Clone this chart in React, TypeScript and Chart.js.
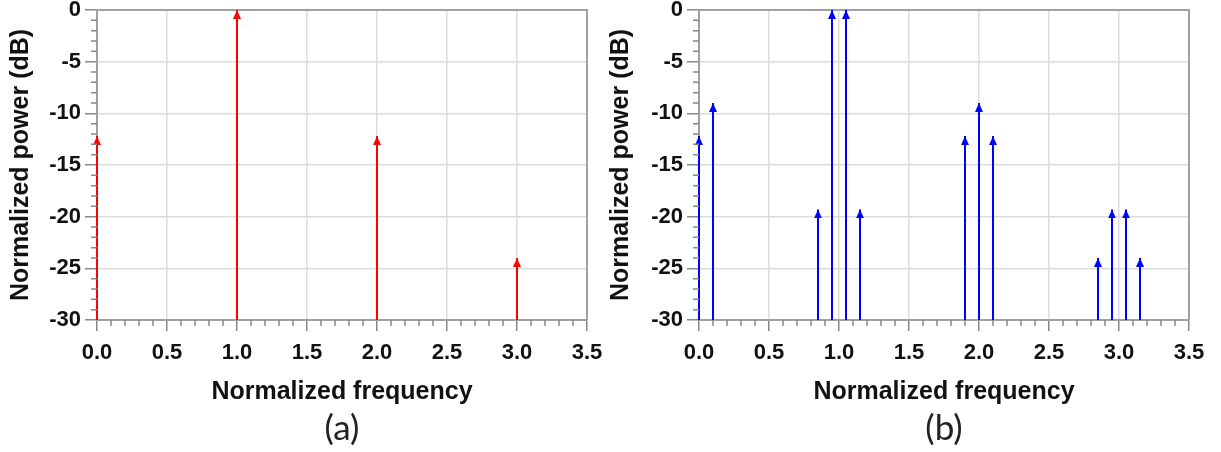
import React, { useEffect, useRef } from "react";
import { Chart, registerables } from "chart.js";

Chart.register(...registerables);

// ---- data ----
const freqA = [0, 1, 2, 3];
const powerA = [-12.2, 0, -12.2, -24];

const freqB = [0, 0.1, 0.85, 0.95, 1.05, 1.15, 1.9, 2.0, 2.1, 2.85, 2.95, 3.05, 3.15];
const powerB = [-12.2, -9, -19.3, 0, 0, -19.3, -12.2, -9, -12.2, -24, -19.3, -19.3, -24];

const xMin = 0;
const xMax = 3.5;
const xMajorStep = 0.5;
const xMinorStep = 0.1;
const yMin = -30;
const yMax = 0;
const yMajorStep = 5;
const yMinorStep = 1;

const xTitle = "Normalized frequency";
const yTitle = "Normalized power (dB)";
const panelLabels = ["(a)", "(b)"];

const TICK_FONT = "'Liberation Sans', Arial, sans-serif";

function arrowHead(color: string) {
  const c = document.createElement("canvas");
  c.width = 8;
  c.height = 18;
  const g = c.getContext("2d")!;
  g.fillStyle = color;
  g.beginPath();
  g.moveTo(4, 9);
  g.lineTo(8, 18);
  g.lineTo(0, 18);
  g.closePath();
  g.fill();
  return c;
}

const framePlugin = {
  id: "frame",
  beforeDatasetsDraw(chart: any) {
    const { ctx, chartArea } = chart;
    ctx.save();
    ctx.strokeStyle = "#a0a0a0";
    ctx.lineWidth = 2;
    ctx.beginPath();
    ctx.moveTo(chartArea.left, chartArea.top);
    ctx.lineTo(chartArea.right, chartArea.top);
    ctx.lineTo(chartArea.right, chartArea.bottom);
    ctx.stroke();
    ctx.restore();
  },
};

const minorTickPlugin = {
  id: "minorTicks",
  afterDraw(chart: any) {
    const { ctx, chartArea } = chart;
    const xs = chart.scales.x;
    const ys = chart.scales.y;
    ctx.save();
    ctx.strokeStyle = "#888";
    ctx.lineWidth = 1.5;
    ctx.beginPath();
    const nY = Math.round((yMax - yMin) / yMinorStep);
    for (let i = 0; i <= nY; i++) {
      const v = yMin + i * yMinorStep;
      if (Math.abs(v / yMajorStep - Math.round(v / yMajorStep)) < 1e-6) continue;
      const py = ys.getPixelForValue(v);
      ctx.moveTo(chartArea.left - 6, py);
      ctx.lineTo(chartArea.left, py);
    }
    const nX = Math.round((xMax - xMin) / xMinorStep);
    for (let i = 0; i <= nX; i++) {
      const v = xMin + i * xMinorStep;
      if (Math.abs(v / xMajorStep - Math.round(v / xMajorStep)) < 1e-6) continue;
      const px = xs.getPixelForValue(v);
      ctx.moveTo(px, chartArea.bottom);
      ctx.lineTo(px, chartArea.bottom + 6);
    }
    ctx.stroke();
    ctx.restore();
  },
};

function panelLabelPlugin(text: string) {
  return {
    id: "panelLabel",
    afterDraw(chart: any) {
      const { ctx, chartArea } = chart;
      ctx.save();
      ctx.fillStyle = "#222";
      ctx.font = "normal 35px Lato, 'Open Sans', sans-serif";
      ctx.textAlign = "center";
      ctx.textBaseline = "middle";
      ctx.fillText(text, (chartArea.left + chartArea.right) / 2, 429);
      ctx.restore();
    },
  };
}

type PanelProps = {
  freqs: number[];
  powers: number[];
  color: string;
  label: string;
  left: number;
  width: number;
  yWidth: number;
  padRight: number;
};

function Panel({ freqs, powers, color, label, left, width, yWidth, padRight }: PanelProps) {
  const ref = useRef<HTMLCanvasElement>(null);
  useEffect(() => {
    const stems: any[] = [];
    freqs.forEach((f, i) => {
      stems.push({ x: f, y: yMin });
      stems.push({ x: f, y: powers[i] });
      stems.push({ x: f, y: null });
    });
    const heads = freqs.map((f, i) => ({ x: f, y: powers[i] }));
    const chart = new Chart(ref.current!, {
      type: "scatter",
      data: {
        datasets: [
          {
            data: stems,
            showLine: true,
            spanGaps: false,
            borderColor: color,
            borderWidth: 2,
            pointRadius: 0,
            clip: false,
          } as any,
          {
            data: heads,
            showLine: false,
            pointStyle: arrowHead(color),
            pointRadius: 4,
            clip: false,
          } as any,
        ],
      },
      options: {
        animation: false,
        responsive: false,
        events: [],
        layout: { padding: { left: 0, right: padRight, top: 10, bottom: 42 } },
        plugins: {
          legend: { display: false },
          tooltip: { enabled: false },
          title: { display: false },
        },
        scales: {
          x: {
            type: "linear",
            min: xMin,
            max: xMax,
            afterFit: (s: any) => {
              s.height = 90;
              s.paddingLeft = 0;
              s.paddingRight = 0;
            },
            ticks: {
              stepSize: xMajorStep,
              color: "#111",
              padding: 9,
              maxRotation: 0,
              autoSkip: false,
              font: { family: TICK_FONT, size: 22, weight: "bold" },
              callback: (v: any) => Number(v).toFixed(1),
            },
            grid: {
              color: "#dcdcdc",
              lineWidth: 1.5,
              tickLength: 11,
              tickColor: "#888",
            },
            border: { color: "#a0a0a0", width: 2 },
            title: {
              display: true,
              text: xTitle,
              color: "#111",
              font: { family: TICK_FONT, size: 25, weight: "bold" },
              padding: { top: 0, bottom: 3 },
            },
          },
          y: {
            type: "linear",
            min: yMin,
            max: yMax,
            afterFit: (s: any) => {
              s.width = yWidth;
              s.paddingTop = 0;
              s.paddingBottom = 0;
            },
            ticks: {
              stepSize: yMajorStep,
              color: "#111",
              padding: 4,
              font: { family: TICK_FONT, size: 22, weight: "bold" },
            },
            grid: {
              color: "#dcdcdc",
              lineWidth: 1.5,
              tickLength: 12,
              tickColor: "#888",
            },
            border: { color: "#a0a0a0", width: 2 },
            title: {
              display: true,
              text: yTitle,
              color: "#111",
              font: { family: TICK_FONT, size: 25, weight: "bold" },
              padding: { top: 6, bottom: 0 },
            },
          },
        },
      } as any,
      plugins: [framePlugin, minorTickPlugin, panelLabelPlugin(label)],
    });
    return () => chart.destroy();
  }, []);
  return (
    <canvas
      ref={ref}
      width={width}
      height={452}
      style={{ position: "absolute", left, top: 0, width, height: 452 }}
    />
  );
}

export default function App() {
  return (
    <div
      style={{
        position: "fixed",
        left: 0,
        top: 0,
        width: 1221,
        height: 452,
        background: "#fff",
        overflow: "hidden",
      }}
    >
      <Panel freqs={freqA} powers={powerA} color="#ff0000" label={panelLabels[0]} left={0} width={610} yWidth={97} padRight={23} />
      <Panel freqs={freqB} powers={powerB} color="#0000ff" label={panelLabels[1]} left={600} width={621} yWidth={99} padRight={32} />
    </div>
  );
}
